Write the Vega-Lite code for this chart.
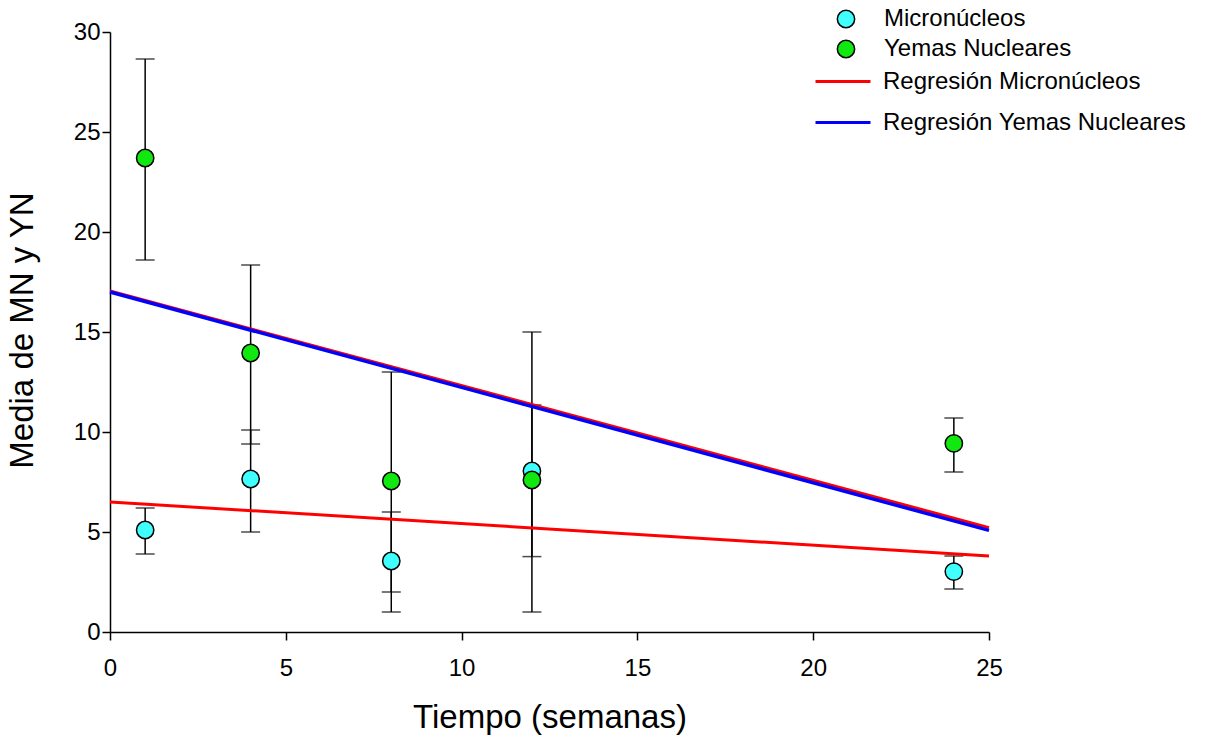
{
  "$schema": "https://vega.github.io/schema/vega-lite/v6.json",
  "width": 879,
  "height": 600,
  "autosize": {"type": "none"},
  "padding": {"left": 110, "top": 32, "right": 218, "bottom": 105},
  "background": "white",
  "config": {
    "view": {"stroke": null},
    "font": "Liberation Sans",
    "axis": {
      "grid": false,
      "labelFont": "Liberation Sans",
      "labelFontSize": 24,
      "labelColor": "black",
      "labelFlush": false,
      "tickColor": "black",
      "domainColor": "black",
      "tickWidth": 1.5,
      "domainWidth": 1.5,
      "tickSize": 8,
      "titleFont": "Liberation Sans",
      "titleFontWeight": "normal",
      "titleColor": "black"
    },
    "legend": {
      "labelFont": "Liberation Sans",
      "labelFontSize": 24,
      "labelColor": "black",
      "labelLimit": 500,
      "padding": 0
    }
  },
  "datasets": {
    "pts": [
      {"series": "Micronúcleos", "t": 1, "mean": 5.1, "lo": 3.9, "hi": 6.2},
      {"series": "Micronúcleos", "t": 4, "mean": 7.65, "lo": 5.0, "hi": 10.1},
      {"series": "Micronúcleos", "t": 8, "mean": 3.55, "lo": 1.0, "hi": 6.0},
      {"series": "Micronúcleos", "t": 12, "mean": 8.05, "lo": 3.77, "hi": 11.35},
      {"series": "Micronúcleos", "t": 24, "mean": 3.02, "lo": 2.15, "hi": 3.8},
      {"series": "Yemas Nucleares", "t": 1, "mean": 23.7, "lo": 18.6, "hi": 28.65},
      {"series": "Yemas Nucleares", "t": 4, "mean": 13.95, "lo": 9.4, "hi": 18.35},
      {"series": "Yemas Nucleares", "t": 8, "mean": 7.55, "lo": 2.0, "hi": 13.0},
      {"series": "Yemas Nucleares", "t": 12, "mean": 7.6, "lo": 1.0, "hi": 15.0},
      {"series": "Yemas Nucleares", "t": 24, "mean": 9.43, "lo": 8.0, "hi": 10.7}
    ],
    "reg": [
      {"id": "MN", "reg": "Regresión Micronúcleos", "t": 0, "v": 6.5},
      {"id": "MN", "reg": "Regresión Micronúcleos", "t": 25, "v": 3.8},
      {"id": "YNr", "reg": "Regresión Micronúcleos", "t": 0, "v": 17.05},
      {"id": "YNr", "reg": "Regresión Micronúcleos", "t": 25, "v": 5.22},
      {"id": "YN", "reg": "Regresión Yemas Nucleares", "t": 0, "v": 17.0},
      {"id": "YN", "reg": "Regresión Yemas Nucleares", "t": 25, "v": 5.08}
    ]
  },
  "layer": [
    {
      "data": {"name": "pts"},
      "mark": {"type": "rule", "color": "black", "strokeWidth": 1.5},
      "encoding": {
        "x": {"field": "t", "type": "quantitative"},
        "y": {"field": "lo", "type": "quantitative"},
        "y2": {"field": "hi"}
      }
    },
    {
      "data": {"name": "pts"},
      "mark": {"type": "tick", "color": "black", "orient": "horizontal", "size": 19, "thickness": 1.5},
      "encoding": {
        "x": {"field": "t", "type": "quantitative"},
        "y": {"field": "lo", "type": "quantitative"}
      }
    },
    {
      "data": {"name": "pts"},
      "mark": {"type": "tick", "color": "black", "orient": "horizontal", "size": 19, "thickness": 1.5},
      "encoding": {
        "x": {"field": "t", "type": "quantitative"},
        "y": {"field": "hi", "type": "quantitative"}
      }
    },
    {
      "data": {"name": "reg"},
      "transform": [{"filter": "datum.id !== 'YN'"}],
      "mark": {"type": "line", "strokeWidth": 3},
      "encoding": {
        "x": {"field": "t", "type": "quantitative"},
        "y": {"field": "v", "type": "quantitative"},
        "detail": {"field": "id"},
        "stroke": {
          "field": "reg", "type": "nominal",
          "scale": {"domain": ["Regresión Micronúcleos", "Regresión Yemas Nucleares"], "range": ["#FF0000", "#0000FF"]},
          "legend": {
            "title": null,
            "orient": "none",
            "legendX": 704,
            "legendY": 20.5,
            "symbolType": "stroke",
            "symbolSize": 3025,
            "symbolStrokeWidth": 3,
            "labelOffset": 11,
            "rowPadding": -11
          }
        }
      }
    },
    {
      "data": {"name": "reg"},
      "transform": [{"filter": "datum.id === 'YN'"}],
      "mark": {"type": "line", "strokeWidth": 3.5},
      "encoding": {
        "x": {"field": "t", "type": "quantitative"},
        "y": {"field": "v", "type": "quantitative"},
        "stroke": {"field": "reg", "type": "nominal"}
      }
    },
    {
      "data": {"name": "pts"},
      "mark": {"type": "point", "shape": "circle", "filled": true, "size": 300, "stroke": "black", "strokeWidth": 1.5, "opacity": 1},
      "encoding": {
        "x": {
          "field": "t", "type": "quantitative",
          "scale": {"domain": [0, 25], "nice": false, "zero": false},
          "axis": {
            "values": [0, 5, 10, 15, 20, 25],
            "labelPadding": 16,
            "title": "Tiempo (semanas)",
            "titleFontSize": 33,
            "titleBaseline": "alphabetic",
            "titleY": 95
          }
        },
        "y": {
          "field": "mean", "type": "quantitative",
          "scale": {"domain": [0, 30], "nice": false},
          "axis": {
            "values": [0, 5, 10, 15, 20, 25, 30],
            "labelPadding": 2,
            "title": "Media de MN y YN",
            "titleFontSize": 33,
            "titleBaseline": "alphabetic",
            "titleAngle": -90,
            "titleX": -78,
            "titleY": 298
          }
        },
        "fill": {
          "field": "series", "type": "nominal",
          "scale": {"domain": ["Micronúcleos", "Yemas Nucleares"], "range": ["#40FFFF", "#10E810"]},
          "legend": {
            "title": null,
            "orient": "none",
            "legendX": 724,
            "legendY": -25,
            "symbolType": "circle",
            "symbolSize": 300,
            "symbolStrokeColor": "black",
            "symbolStrokeWidth": 1.5,
            "symbolOpacity": 1,
            "labelOffset": 26,
            "rowPadding": 6
          }
        }
      }
    }
  ],
  "encoding": {}
}
